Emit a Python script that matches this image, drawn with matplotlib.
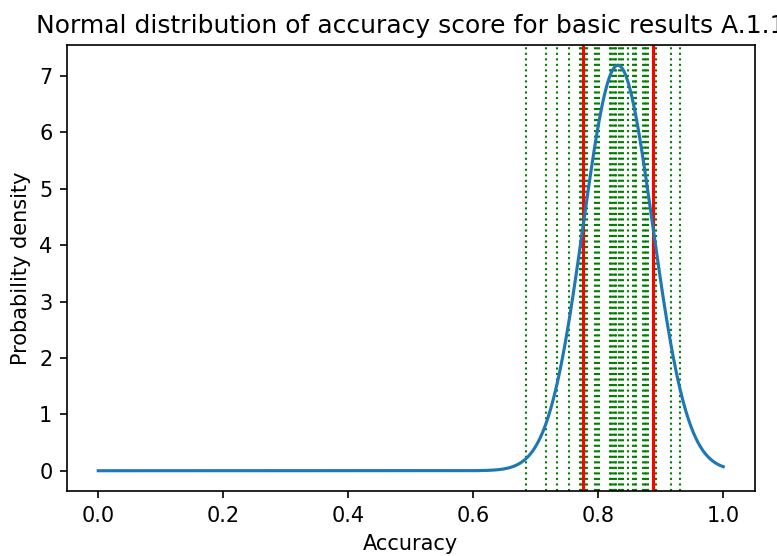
import numpy as np
import matplotlib
matplotlib.use("Agg")
import matplotlib.pyplot as plt

# accuracy scores (green dotted lines)
scores = [0.684, 0.716, 0.734, 0.753, 0.770, 0.772, 0.779, 0.782, 0.794, 0.798,
          0.801, 0.819, 0.821, 0.824, 0.826, 0.828, 0.833, 0.836, 0.840, 0.848,
          0.855, 0.858, 0.861, 0.872, 0.874, 0.876, 0.880, 0.892, 0.916, 0.931]

# fitted normal parameters (red lines at mu - sigma and mu + sigma)
mu = 0.8315
sigma = 0.0555

x = np.linspace(0, 1, 500)
pdf = np.exp(-0.5 * ((x - mu) / sigma) ** 2) / (sigma * np.sqrt(2 * np.pi))

fig = plt.figure(figsize=(777 / 150, 556 / 150), dpi=150)
ax = fig.add_axes([67 / 777, 1 - 491 / 556, (754.5 - 67) / 777, (491 - 45) / 556])

for s in scores:
    ax.axvline(s, color='g', linestyle=':', linewidth=1)
ax.axvline(mu - sigma, color='r', linewidth=1.5)
ax.axvline(mu + sigma, color='r', linewidth=1.5)
ax.plot(x, pdf)

ax.set_title("Normal distribution of accuracy score for basic results A.1.1")
ax.set_xlabel("Accuracy")
ax.set_ylabel("Probability density")

fig.savefig("out.png", dpi=150)
